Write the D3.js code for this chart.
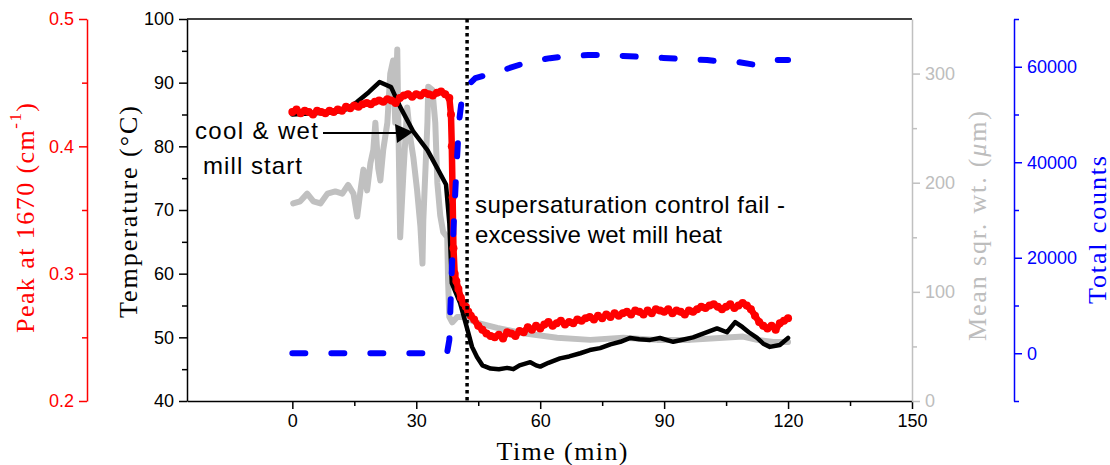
<!DOCTYPE html>
<html>
<head>
<meta charset="utf-8">
<script src="https://cdn.jsdelivr.net/npm/d3@7"></script>
<style>
  html, body { margin: 0; padding: 0; background: #ffffff; }
  svg { display: block; }
</style>
</head>
<body>
<svg id="chart" width="1110" height="465"></svg>
<script>
// ---- data ----
// Temperature (°C) vs time (min)
const tempTime = [0, 5, 10, 13, 15.7, 18.5, 21.1, 23.9, 26.1, 29.3, 32.7, 35.3, 37.2, 38.0, 38.6, 40.6, 42.6, 43.5, 44.7, 46, 48, 50, 52, 53.5, 55, 57.6, 59, 60, 62, 64.8, 67, 69.7, 72, 74.5, 77, 79.4, 81.8, 84, 86.6, 89, 92.2, 95, 97, 100.4, 102.8, 105.2, 107.2, 109, 110.5, 112.5, 114, 115.6, 118, 120];
const tempValue = [85.0, 85.2, 85.3, 85.8, 87.0, 88.5, 90.1, 89.3, 86.2, 82.3, 79.4, 76.3, 74.0, 68.0, 58.5, 55.4, 50.7, 48.5, 46.9, 45.6, 45.1, 45.0, 45.2, 45.0, 45.6, 46.1, 45.6, 45.4, 46.0, 46.7, 47.0, 47.5, 48.0, 48.3, 48.9, 49.3, 49.9, 49.7, 49.6, 49.9, 49.3, 49.7, 50.0, 50.8, 51.4, 50.8, 52.4, 51.6, 50.8, 49.9, 49.0, 48.5, 48.8, 49.9];

// Peak at 1670 cm-1
const peakTime = [0, 1, 2, 3, 4, 5, 6, 7, 8, 9, 10, 11, 12, 13, 14, 15, 16, 17, 18, 19, 20, 21, 22, 23, 24, 25, 26, 27, 28, 29, 30, 31, 32, 33, 34, 35, 36, 37, 38, 38.4, 38.6, 38.8, 39.0, 39.3, 39.7, 40.2, 40.8, 41.4, 42.0, 42.6, 43.2, 44, 45, 46, 47, 48, 49, 50, 51, 52, 53, 54, 55, 56, 57, 58, 59, 60, 61, 62, 63, 64, 65, 66, 67, 68, 69, 70, 71, 72, 73, 74, 75, 76, 77, 78, 79, 80, 81, 82, 83, 84, 85, 86, 87, 88, 89, 90, 91, 92, 93, 94, 95, 96, 97, 98, 99, 100, 101, 102, 103, 104, 105, 106, 107, 108, 109, 110, 111, 112, 113, 114, 115, 116, 117, 118, 119, 120];
const peakValue = [0.427, 0.429, 0.426, 0.428, 0.427, 0.425, 0.428, 0.427, 0.426, 0.428, 0.427, 0.429, 0.428, 0.431, 0.430, 0.432, 0.431, 0.433, 0.434, 0.433, 0.435, 0.436, 0.435, 0.437, 0.436, 0.434, 0.438, 0.440, 0.441, 0.439, 0.441, 0.440, 0.442, 0.441, 0.440, 0.442, 0.443, 0.441, 0.438, 0.425, 0.400, 0.360, 0.320, 0.300, 0.294, 0.288, 0.281, 0.277, 0.274, 0.270, 0.267, 0.264, 0.259, 0.256, 0.253, 0.251, 0.250, 0.252, 0.249, 0.254, 0.253, 0.251, 0.255, 0.254, 0.258, 0.256, 0.259, 0.257, 0.260, 0.262, 0.259, 0.261, 0.263, 0.260, 0.262, 0.261, 0.264, 0.263, 0.265, 0.266, 0.264, 0.267, 0.265, 0.268, 0.266, 0.269, 0.267, 0.269, 0.270, 0.268, 0.271, 0.270, 0.268, 0.271, 0.269, 0.272, 0.271, 0.270, 0.272, 0.269, 0.271, 0.270, 0.268, 0.271, 0.270, 0.272, 0.274, 0.273, 0.275, 0.276, 0.274, 0.272, 0.274, 0.276, 0.273, 0.275, 0.277, 0.275, 0.272, 0.267, 0.262, 0.259, 0.257, 0.259, 0.256, 0.261, 0.263, 0.265];

// Mean square weighted chord length (µm)
const chordTime = [0.2, 1.9, 3.6, 5.1, 6.8, 8.5, 10.4, 12.1, 13.5, 14.8, 15.7, 16.5, 17.2, 18.1, 18.9, 19.6, 20.1, 20.8, 21.3, 22.0, 23.0, 23.7, 24.4, 24.9, 25.4, 25.6, 26.1, 26.9, 27.8, 28.6, 29.3, 30.2, 31.0, 31.5, 31.7, 32.7, 32.9, 33.9, 34.6, 35.1, 35.8, 36.5, 37.5, 37.7, 38.0, 38.7, 39.9, 41.4, 44.8, 49.6, 55.9, 64.1, 72.1, 80.1, 88.3, 96.3, 104.3, 109.1, 112.5, 116.4, 120];
const chordValue = [181, 183, 190, 183, 181, 190, 192, 190, 198, 190, 169, 193, 212, 193, 218, 230, 255, 213, 202, 230, 255, 300, 312, 255, 322, 270, 150, 210, 269, 240, 223, 193, 160, 126, 165, 255, 288, 285, 255, 200, 170, 155, 150, 110, 77, 72, 77, 77, 71.5, 67, 62, 58, 56, 58, 56, 56, 58, 59, 56, 54, 54];

// Total counts
const countTime = [0, 36.5, 37.5, 38.0, 38.5, 39.0, 39.7, 40.4, 41.3, 44.3, 49.6, 57.1, 62.4, 66.8, 71.6, 76.2, 80.1, 84.9, 89.8, 94.6, 100.4, 104.3, 107.7, 112.0, 116.9, 120];
const countValue = [0, 0, 300, 2800, 15300, 25800, 38400, 48800, 55100, 57600, 58900, 61000, 61800, 62250, 62450, 62450, 62250, 62050, 61850, 61600, 61400, 61000, 61000, 60400, 61400, 61400];

// event marker
const eventTime = 42.3;

// tick values
const timeTicks = [0, 30, 60, 90, 120, 150];
const timeMinor = [15, 45, 75, 105, 135];
const tempTicks = [40, 50, 60, 70, 80, 90, 100];
const tempMinor = [45, 55, 65, 75, 85, 95];
const peakTicks = [0.2, 0.3, 0.4, 0.5];
const peakMinor = [0.25, 0.35, 0.45];
const chordTicks = [0, 100, 200, 300];
const chordMinor = [50, 150, 250];
const countTicks = [0, 20000, 40000, 60000];
const countMinor = [-10000, 10000, 30000, 50000, 70000];

// ---- layout ----
const plotL = 187, plotR = 912, plotT = 19, plotB = 401;
const RED = "#ff0000", BLUE = "#0000ff", GRAY = "#c0c0c0", GRAYTXT = "#bdbdbd";
const sans = "'Liberation Sans', Arial, sans-serif";
const serif = "'Liberation Serif', 'Times New Roman', serif";

const svg = d3.select("#chart");

const x = d3.scaleLinear().domain([-25.5, 150]).range([plotL, plotR]);
const yT = d3.scaleLinear().domain([40, 100]).range([plotB, plotT]);
const yP = d3.scaleLinear().domain([0.2, 0.5]).range([plotB, plotT]);
const yC = d3.scaleLinear().domain([0, 350]).range([plotB, plotT]);
const yN = d3.scaleLinear().domain([-10000, 70000]).range([plotB, plotT]);

// draws a major + minor axis pair
function drawAxis(gen, scale, major, minor, tx, ty, color, txtColor, fmt) {
  const gMin = svg.append("g").attr("transform", `translate(${tx},${ty})`)
    .call(gen(scale).tickValues(minor).tickSize(5).tickSizeOuter(0).tickFormat(""));
  gMin.select(".domain").remove();
  gMin.selectAll("line").attr("stroke", color).attr("stroke-width", 1.5);
  const g = svg.append("g").attr("transform", `translate(${tx},${ty})`)
    .call(gen(scale).tickValues(major).tickSize(8).tickSizeOuter(0).tickPadding(5).tickFormat(fmt));
  g.select(".domain").attr("stroke", color).attr("stroke-width", 1.5);
  g.selectAll("line").attr("stroke", color).attr("stroke-width", 1.5);
  g.selectAll("text").attr("fill", txtColor).attr("font-family", sans).attr("font-size", 18);
  return g;
}

// frame top edge
svg.append("line").attr("x1", plotL).attr("x2", plotR).attr("y1", plotT).attr("y2", plotT)
  .attr("stroke", "#000").attr("stroke-width", 1.5);

drawAxis(d3.axisBottom, x, timeTicks, timeMinor, 0, plotB, "#000", "#000", d3.format("d"));
drawAxis(d3.axisLeft, yT, tempTicks, tempMinor, plotL, 0, "#000", "#000", d3.format("d"));
drawAxis(d3.axisLeft, yP, peakTicks, peakMinor, 87, 0, RED, RED, d3.format(".1f"));
drawAxis(d3.axisRight, yC, chordTicks, chordMinor, plotR, 0, GRAY, GRAYTXT, d3.format("d"));
drawAxis(d3.axisRight, yN, countTicks, countMinor, 1014, 0, BLUE, BLUE, d3.format("d"));

// ---- axis titles ----
function vTitle(cx, cy, color, len) {
  return svg.append("text")
    .attr("transform", `translate(${cx},${cy}) rotate(-90)`)
    .attr("text-anchor", "middle").attr("dominant-baseline", "central")
    .attr("font-family", serif).attr("font-size", 26).attr("fill", color)
    .attr("textLength", len).attr("lengthAdjust", "spacing");
}
const tP = vTitle(25, 218, RED, 230);
tP.append("tspan").text("Peak at 1670 (cm");
tP.append("tspan").attr("font-size", 17).attr("dy", -10).text("-1");
tP.append("tspan").attr("dy", 10).text(")");

vTitle(128, 212, "#000", 212).text("Temperature (°C)");

const tC = vTitle(977, 226, GRAYTXT, 230);
tC.append("tspan").text("Mean sqr. wt. (");
tC.append("tspan").attr("font-style", "italic").text("μ");
tC.append("tspan").text("m)");

vTitle(1097, 230, BLUE, 148).text("Total counts");

svg.append("text").attr("x", 562).attr("y", 460).attr("text-anchor", "middle")
  .attr("font-family", serif).attr("font-size", 26).attr("fill", "#000")
  .attr("textLength", 131).attr("lengthAdjust", "spacing").text("Time (min)");

// ---- series ----
const plot = svg.append("g");

const chordLine = d3.line().x((d, i) => x(chordTime[i])).y(d => yC(d));
plot.append("path").datum(chordValue).attr("d", chordLine)
  .attr("fill", "none").attr("stroke", GRAY).attr("stroke-width", 6)
  .attr("stroke-linejoin", "round").attr("stroke-linecap", "round");

const tempLine = d3.line().x((d, i) => x(tempTime[i])).y(d => yT(d));
plot.append("path").datum(tempValue).attr("d", tempLine)
  .attr("fill", "none").attr("stroke", "#000").attr("stroke-width", 4.5)
  .attr("stroke-linejoin", "round").attr("stroke-linecap", "round");

const peakLine = d3.line().x((d, i) => x(peakTime[i])).y(d => yP(d));
plot.append("path").datum(peakValue).attr("d", peakLine)
  .attr("fill", "none").attr("stroke", RED).attr("stroke-width", 6.5)
  .attr("stroke-linejoin", "round").attr("stroke-linecap", "round");
plot.selectAll("circle.peak").data(peakValue).join("circle")
  .attr("class", "peak")
  .attr("cx", (d, i) => x(peakTime[i])).attr("cy", d => yP(d))
  .attr("r", 4).attr("fill", RED);

const countLine = d3.line().x((d, i) => x(countTime[i])).y(d => yN(d));
plot.append("path").datum(countValue).attr("d", countLine)
  .attr("fill", "none").attr("stroke", BLUE).attr("stroke-width", 6)
  .attr("stroke-dasharray", "13,26").attr("stroke-linecap", "round")
  .attr("stroke-linejoin", "round");

// event marker
plot.append("line").attr("x1", x(eventTime)).attr("x2", x(eventTime))
  .attr("y1", plotT).attr("y2", plotB)
  .attr("stroke", "#000").attr("stroke-width", 3.5).attr("stroke-dasharray", "3.5,3.5");

// ---- annotations ----
const ann = svg.append("g").attr("font-family", sans).attr("font-size", 24).attr("fill", "#000");
function note(tx, ty, len, str) {
  ann.append("text").attr("x", tx).attr("y", ty)
    .attr("textLength", len).attr("lengthAdjust", "spacing").text(str);
}
note(195, 139, 123, "cool & wet");
note(203, 174, 99, "mill start");
note(475, 213, 310, "supersaturation control fail -");
note(475, 243, 247, "excessive wet mill heat");

svg.append("line").attr("x1", 323).attr("x2", 400).attr("y1", 133).attr("y2", 133)
  .attr("stroke", "#000").attr("stroke-width", 2);
svg.append("path").attr("d", "M413,132 L395,124 L397,143 Z").attr("fill", "#000");
</script>
</body>
</html>
